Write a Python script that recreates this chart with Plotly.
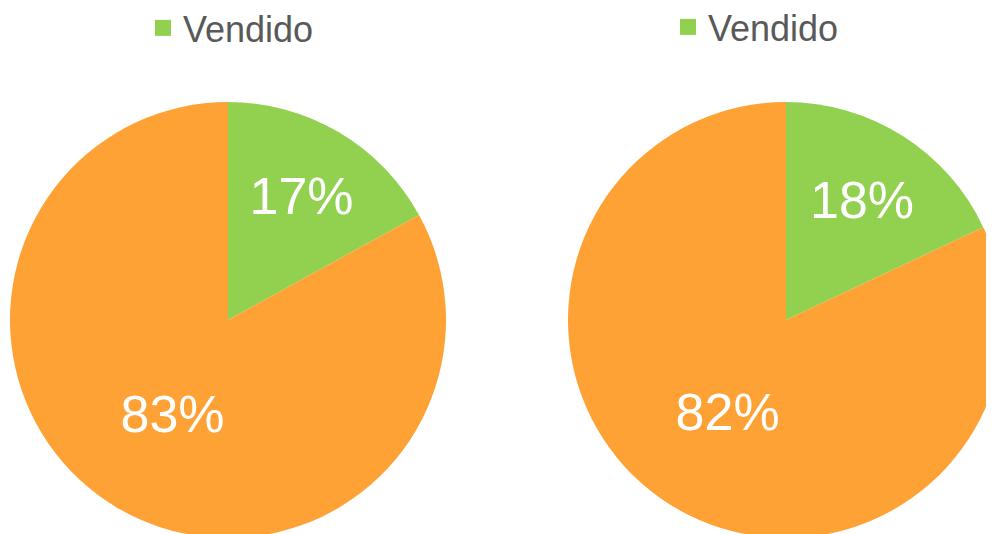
import plotly.graph_objects as go

labels = ["Vendido", "No vendido"]
left_values = [17, 83]
right_values = [18, 82]
legend_name = "Vendido"

GREEN = "#92D050"
ORANGE = "#FFA236"
GREY = "#595959"
FONT = "Liberation Sans, Arial, sans-serif"

# the page adds an 8px body margin, so the figure is a bit larger than the window
W, H = 1010, 545


def pie(values, cx):
    # pie centre cx and radius 218 in figure px, centre 312 px from the top
    half = 218
    return go.Pie(
        labels=labels,
        values=values,
        sort=False,
        direction="clockwise",
        rotation=0,
        marker=dict(colors=[GREEN, ORANGE], line=dict(width=0)),
        texttemplate="%{percent:.0%}",
        textposition="inside",
        insidetextorientation="horizontal",
        textfont=dict(color="white", size=52, family=FONT),
        domain=dict(
            x=[max(cx - half, 0) / W, (cx + half) / W],
            y=[(H - 312 - half) / H, (H - 312 + half) / H],
        ),
        showlegend=False,
        hoverinfo="label+percent",
    )


fig = go.Figure()
fig.add_trace(pie(left_values, 220))
fig.add_trace(pie(right_values, 778))

# legend entries (one per pie, only the green slice is listed)
for lg in ["legend", "legend2"]:
    fig.add_trace(go.Scatter(
        x=[None], y=[None], mode="markers", name=legend_name,
        marker=dict(symbol="square", size=16, color=GREEN),
        legend=lg, showlegend=True, hoverinfo="skip",
    ))

legend_style = dict(
    font=dict(size=36, color=GREY, family=FONT),
    bgcolor="rgba(0,0,0,0)",
    borderwidth=0,
    xanchor="left",
    yanchor="top",
    orientation="h",
)

fig.update_layout(
    width=W,
    height=H,
    margin=dict(l=0, r=0, t=0, b=0, autoexpand=False),
    paper_bgcolor="white",
    plot_bgcolor="white",
    font=dict(family=FONT),
    xaxis=dict(visible=False),
    yaxis=dict(visible=False),
    legend=dict(x=135 / W, y=1 + 10 / H, **legend_style),
    legend2=dict(x=660 / W, y=1 + 11 / H, **legend_style),
)

fig.write_html("out.html")
